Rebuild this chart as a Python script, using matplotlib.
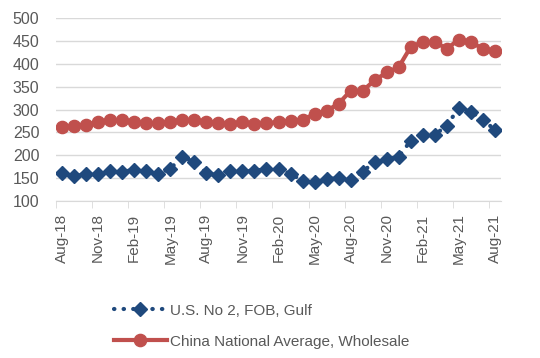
import matplotlib
matplotlib.use("Agg")
import matplotlib.pyplot as plt
import numpy as np

plt.rcParams['font.family'] = ['Liberation Sans', 'DejaVu Sans']

# monthly, Aug-18 .. Aug-21
us_gulf = [161, 155, 159, 159, 165, 164, 168, 165, 159, 171, 196, 186,
           161, 156, 166, 166, 166, 170, 169, 160, 144, 142, 148, 150,
           146, 164, 186, 191, 197, 232, 245, 245, 265, 304, 295, 278, 255]
china_avg = [261, 265, 267, 273, 277, 277, 273, 270, 270, 273, 278, 277,
             273, 270, 268, 272, 268, 270, 273, 274, 278, 290, 297, 313,
             341, 341, 364, 381, 393, 437, 448, 447, 433, 453, 448, 432, 428]
tick_labels = ['Aug-18', 'Nov-18', 'Feb-19', 'May-19', 'Aug-19', 'Nov-19', 'Feb-20',
               'May-20', 'Aug-20', 'Nov-20', 'Feb-21', 'May-21', 'Aug-21']

x = np.arange(len(us_gulf))

fig = plt.figure(figsize=(5.4, 3.58), dpi=100)
ax = fig.add_axes([56/540, 1 - 201/358, 445/540, 183/358])

ax.plot(x, us_gulf, color='#1F497D', lw=3, linestyle=(0, (0.1, 2.2)),
        dash_capstyle='round', marker='D', markersize=7.5,
        label='U.S. No 2, FOB, Gulf', zorder=3)
ax.plot(x, china_avg, color='#C0504D', lw=3, marker='o', markersize=8.8,
        label='China National Average, Wholesale', zorder=3)

ax.set_xlim(-0.5, len(x) - 0.5)
ax.set_ylim(100, 500)
ax.set_yticks(range(100, 501, 50))
ax.yaxis.grid(True, color='#D9D9D9', lw=1)
ax.set_axisbelow(True)

ax.set_xticks(x[::3])
ax.set_xticklabels(tick_labels, rotation=90)
ax.set_xticks(np.arange(-0.5, len(x) - 1, 3), minor=True)
ax.tick_params(axis='x', which='major', length=0, pad=9)
ax.tick_params(axis='x', which='minor', length=5, color='#D9D9D9')
ax.tick_params(axis='y', length=0, pad=12)
ax.tick_params(labelsize=11.5, labelcolor='#595959')
ax.tick_params(axis='x', labelsize=11)

for s in ['top', 'right', 'left']:
    ax.spines[s].set_visible(False)
ax.spines['bottom'].set_color('#D9D9D9')

fig.legend(loc='upper left', bbox_to_anchor=(100/540, 1 - 290/358), frameon=False,
           fontsize=11, labelcolor='#595959', handlelength=3.5, handletextpad=0.15,
           labelspacing=1.1)

fig.savefig('out.png', dpi=100)
